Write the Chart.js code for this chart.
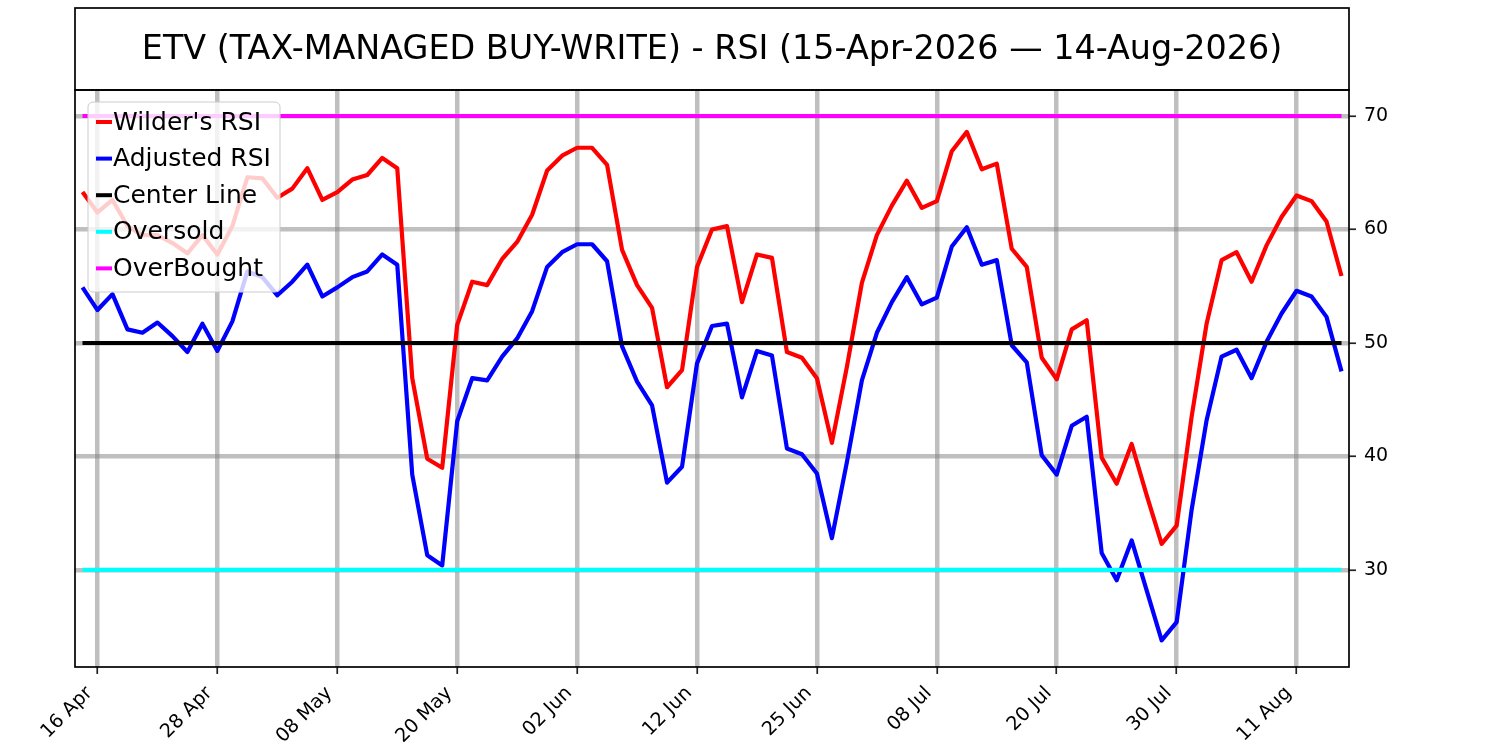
<!DOCTYPE html>
<html>
<head>
<meta charset="utf-8">
<title>ETV RSI</title>
<script src="https://cdn.jsdelivr.net/npm/chart.js@4.4.1/dist/chart.umd.min.js"></script>
<style>
  html, body { margin: 0; padding: 0; background: #fff; }
  #wrap { width: 1500px; height: 750px; }
</style>
</head>
<body>
<div id="wrap"><canvas id="rsi"></canvas></div>
<script>
// trading days, 15 Apr - 14 Aug 2026
const DATES = [
  '15 Apr', '16 Apr', '17 Apr', '20 Apr', '21 Apr', '22 Apr', '23 Apr', '24 Apr', '27 Apr', '28 Apr', '29 Apr', '30 Apr',
  '01 May', '04 May', '05 May', '06 May', '07 May', '08 May', '11 May', '12 May', '13 May', '14 May', '15 May', '18 May',
  '19 May', '20 May', '21 May', '22 May', '26 May', '27 May', '28 May', '29 May',
  '01 Jun', '02 Jun', '03 Jun', '04 Jun', '05 Jun', '08 Jun', '09 Jun', '10 Jun', '11 Jun', '12 Jun', '15 Jun', '16 Jun',
  '17 Jun', '18 Jun', '22 Jun', '23 Jun', '24 Jun', '25 Jun', '26 Jun', '29 Jun', '30 Jun',
  '01 Jul', '02 Jul', '06 Jul', '07 Jul', '08 Jul', '09 Jul', '10 Jul', '13 Jul', '14 Jul', '15 Jul', '16 Jul', '17 Jul',
  '20 Jul', '21 Jul', '22 Jul', '23 Jul', '24 Jul', '27 Jul', '28 Jul', '29 Jul', '30 Jul', '31 Jul',
  '03 Aug', '04 Aug', '05 Aug', '06 Aug', '07 Aug', '10 Aug', '11 Aug', '12 Aug', '13 Aug', '14 Aug'
];

const TICK_LABELS = ['16 Apr', '28 Apr', '08 May', '20 May', '02 Jun', '12 Jun', '25 Jun', '08 Jul', '20 Jul', '30 Jul', '11 Aug'];

const WILDER_RSI = [
  63.3, 61.5, 62.6, 60.3, 59.5, 59.5, 58.8, 57.9, 59.5, 57.8,
  60.3, 64.6, 64.5, 62.8, 63.6, 65.4, 62.6, 63.3, 64.4, 64.8,
  66.3, 65.4, 46.9, 39.8, 39.0, 51.6, 55.4, 55.1, 57.4, 58.9,
  61.3, 65.2, 66.5, 67.2, 67.2, 65.7, 58.2, 55.1, 53.1, 46.1,
  47.6, 56.7, 60.0, 60.3, 53.6, 57.8, 57.5, 49.2, 48.7, 46.9,
  41.2, 47.9, 55.3, 59.5, 62.1, 64.3, 61.9, 62.5, 66.9, 68.6,
  65.3, 65.8, 58.3, 56.7, 48.7, 46.8, 51.2, 52.0, 39.9, 37.6,
  41.1, 36.6, 32.3, 33.9, 43.5, 51.7, 57.3, 58.0, 55.4, 58.6,
  61.1, 63.0, 62.5, 60.7, 55.9
];

const ADJUSTED_RSI = [
  54.9, 52.9, 54.3, 51.2, 50.9, 51.8, 50.6, 49.2, 51.7, 49.3,
  51.9, 56.3, 55.8, 54.2, 55.4, 56.9, 54.1, 54.9, 55.8, 56.3,
  57.8, 56.9, 38.4, 31.3, 30.4, 43.1, 46.9, 46.7, 48.8, 50.4,
  52.8, 56.7, 58.0, 58.7, 58.7, 57.2, 49.7, 46.6, 44.5, 37.7,
  39.1, 48.2, 51.5, 51.7, 45.2, 49.3, 48.9, 40.7, 40.2, 38.5,
  32.8, 39.5, 46.7, 50.9, 53.6, 55.8, 53.4, 54.0, 58.5, 60.2,
  56.9, 57.3, 49.8, 48.3, 40.1, 38.4, 42.7, 43.5, 31.5, 29.1,
  32.6, 28.2, 23.8, 25.4, 35.3, 43.2, 48.8, 49.4, 46.9, 50.1,
  52.6, 54.6, 54.1, 52.3, 47.5
];

const CENTER_LEVEL = 50;
const OVERSOLD_LEVEL = 30;
const OVERBOUGHT_LEVEL = 70;
const Y_TICKS = [30, 40, 50, 60, 70];

const TITLE = 'ETV (TAX-MANAGED BUY-WRITE) - RSI (15-Apr-2026 \u2014 14-Aug-2026)';
const FONT = "'DejaVu Sans', sans-serif";

const level = (v) => DATES.map(() => v);

const lineStyle = (color) => ({
  borderColor: color,
  backgroundColor: color,
  borderWidth: 4.2,
  borderJoinStyle: 'round',
  pointRadius: 0,
  tension: 0,
  fill: false
});

// title box sitting on top of the plot area
const titleBox = {
  id: 'titleBox',
  afterDraw(chart) {
    const { ctx, chartArea } = chart;
    ctx.save();
    ctx.lineWidth = 1.7;
    ctx.strokeStyle = '#000';
    ctx.strokeRect(chartArea.left, 8, chartArea.right - chartArea.left, chartArea.top - 8);
    ctx.fillStyle = '#000';
    ctx.font = '33.4px ' + FONT;
    ctx.textAlign = 'center';
    ctx.textBaseline = 'middle';
    ctx.fillText(TITLE, (chartArea.left + chartArea.right) / 2, (8 + chartArea.top) / 2 + 1.5);
    ctx.restore();
  }
};

// axes frame + legend drawn inside the plot, upper left
const overlayLegend = {
  id: 'overlayLegend',
  afterDatasetsDraw(chart) {
    const { ctx, chartArea } = chart;
    ctx.save();
    ctx.lineWidth = 1.7;
    ctx.strokeStyle = '#000';
    ctx.strokeRect(chartArea.left, chartArea.top, chartArea.right - chartArea.left, chartArea.bottom - chartArea.top);

    const x = chartArea.left + 13, y = chartArea.top + 12, w = 192, h = 190;
    ctx.beginPath();
    ctx.roundRect(x, y, w, h, 5);
    ctx.fillStyle = 'rgba(255,255,255,0.8)';
    ctx.fill();
    ctx.lineWidth = 1;
    ctx.strokeStyle = '#cccccc';
    ctx.stroke();

    ctx.font = '25px ' + FONT;
    ctx.textBaseline = 'middle';
    ctx.textAlign = 'left';
    chart.data.datasets.forEach((ds, i) => {
      const cy = y + 20 + i * 36.6;
      ctx.strokeStyle = ds.borderColor;
      ctx.lineWidth = 4;
      ctx.beginPath();
      ctx.moveTo(x + 8, cy);
      ctx.lineTo(x + 24, cy);
      ctx.stroke();
      ctx.fillStyle = '#000';
      ctx.fillText(ds.label, x + 25, cy + 1);
    });
    ctx.restore();
  }
};

const gridStyle = {
  color: 'rgba(128,128,128,0.5)',
  lineWidth: 4.5,
  tickColor: '#222',
  tickWidth: 1.7,
  tickLength: 7,
  offset: false
};

new Chart(document.getElementById('rsi'), {
  type: 'line',
  data: {
    labels: DATES,
    datasets: [
      { label: "Wilder's RSI", data: WILDER_RSI, order: 4, ...lineStyle('#ff0000') },
      { label: 'Adjusted RSI', data: ADJUSTED_RSI, order: 3, ...lineStyle('#0000ff') },
      { label: 'Center Line', data: level(CENTER_LEVEL), order: 2, ...lineStyle('#000000') },
      { label: 'Oversold', data: level(OVERSOLD_LEVEL), order: 1, ...lineStyle('#00ffff') },
      { label: 'OverBought', data: level(OVERBOUGHT_LEVEL), order: 0, ...lineStyle('#ff00ff') }
    ]
  },
  options: {
    responsive: true,
    maintainAspectRatio: false,
    animation: false,
    layout: { padding: { left: 75, top: 90, right: 0, bottom: 0 } },
    scales: {
      x: {
        type: 'category',
        offset: true,
        grid: gridStyle,
        border: { display: false },
        afterBuildTicks: (scale) => {
          scale.ticks = scale.ticks.filter(t => TICK_LABELS.includes(DATES[t.value]));
        },
        afterFit: (scale) => { scale.height = 83; },
        ticks: {
          autoSkip: false,
          minRotation: 45,
          maxRotation: 45,
          padding: 8,
          labelOffset: -8,
          color: '#000',
          font: { family: FONT, size: 19.2 }
        }
      },
      y: {
        position: 'right',
        min: 21.45,
        max: 72.29,
        grid: gridStyle,
        border: { display: false },
        afterBuildTicks: (scale) => {
          scale.ticks = Y_TICKS.map(v => ({ value: v }));
        },
        afterFit: (scale) => { scale.width = 151; },
        ticks: {
          padding: 8,
          color: '#000',
          font: { family: FONT, size: 19 }
        }
      }
    },
    plugins: {
      legend: { display: false },
      tooltip: { enabled: false },
      title: { display: false }
    }
  },
  plugins: [titleBox, overlayLegend]
});
</script>
</body>
</html>
